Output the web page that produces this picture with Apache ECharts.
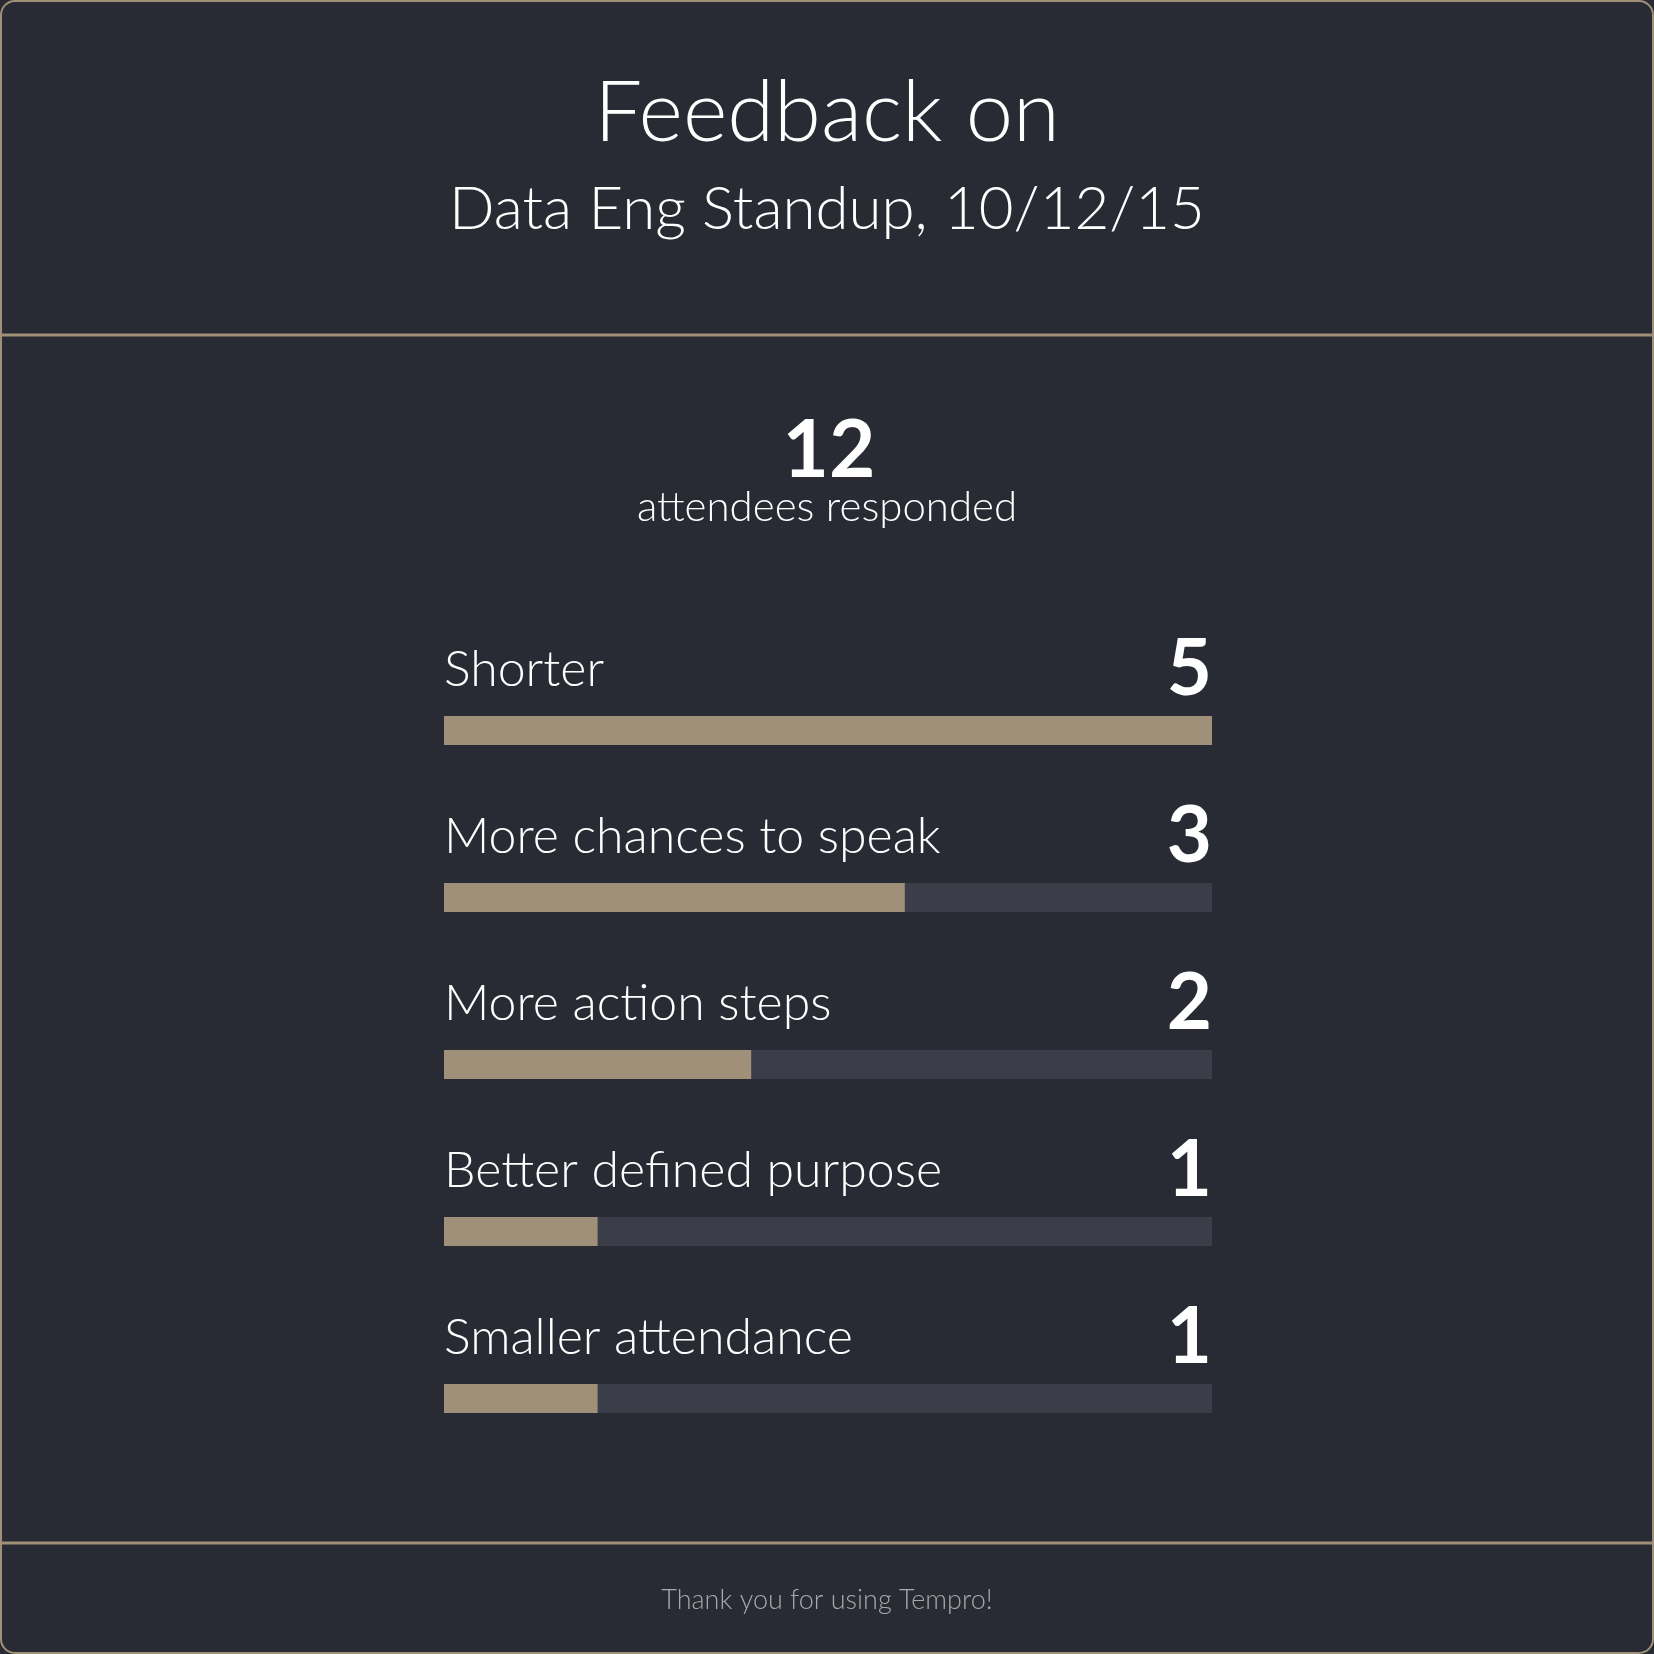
<!DOCTYPE html>
<html>
<head>
<meta charset="utf-8">
<script src="https://cdn.jsdelivr.net/npm/echarts@6/dist/echarts.min.js"></script>
<style>html,body{margin:0;padding:0;background:#282b34;}#c{width:1654px;height:1654px;}</style>
</head>
<body>
<div id="c"></div>
<script>
var titleLine1 = 'Feedback on';
var titleLine2 = 'Data Eng Standup, 10/12/15';
var respondents = '12';
var respondentsLabel = 'attendees responded';
var footerText = 'Thank you for using Tempro!';
var categories = ['Shorter', 'More chances to speak', 'More action steps', 'Better defined purpose', 'Smaller attendance'];
var counts = [5, 3, 2, 1, 1];
var maxCount = 5;
var trackValues = categories.map(function(){ return maxCount; });

var FONT = 'Lato, "Noto Sans", sans-serif';
var chart = echarts.init(document.getElementById('c'));
chart.setOption({
  backgroundColor: '#282b34',
  animation: false,
  grid: { left: 444, right: 442, top: 647, bottom: 172 },
  xAxis: { type: 'value', min: 0, max: maxCount, show: false },
  yAxis: { type: 'category', data: categories, inverse: true, show: false },
  series: [
    {
      type: 'bar', data: trackValues, barWidth: 29, silent: true,
      itemStyle: { color: '#3b3e48' },
      label: {
        show: true, position: ['100%', -46], align: 'right', verticalAlign: 'middle',
        formatter: function(p){ return String(counts[p.dataIndex]); },
        color: '#ffffff', fontFamily: FONT, fontWeight: 'bold', fontSize: 78
      }
    },
    {
      type: 'bar', data: counts, barWidth: 29, barGap: '-100%', silent: true,
      itemStyle: { color: '#a19079' },
      label: {
        show: true, position: [0, -46], align: 'left', verticalAlign: 'middle',
        formatter: function(p){ return p.name; },
        color: '#ffffff', fontFamily: FONT, fontWeight: 300, fontSize: 50
      }
    }
  ],
  graphic: [
    { type: 'rect', shape: { x: 1, y: 1, width: 1652, height: 1652, r: 14 }, style: { fill: 'none', stroke: '#a09078', lineWidth: 2 }, z: 10 },
    { type: 'line', shape: { x1: 2, y1: 335, x2: 1652, y2: 335 }, style: { stroke: '#a09078', lineWidth: 3 } },
    { type: 'line', shape: { x1: 2, y1: 1543, x2: 1652, y2: 1543 }, style: { stroke: '#a09078', lineWidth: 3 } },
    { type: 'text', x: 827, y: 114, style: { text: titleLine1, fill: '#ffffff', font: '300 85px ' + FONT, textAlign: 'center', textVerticalAlign: 'middle' } },
    { type: 'text', x: 827, y: 210, style: { text: titleLine2, fill: '#ffffff', font: '300 60px ' + FONT, textAlign: 'center', textVerticalAlign: 'middle' } },
    { type: 'text', x: 829, y: 451, style: { text: respondents, fill: '#ffffff', font: 'bold 80px ' + FONT, textAlign: 'center', textVerticalAlign: 'middle' } },
    { type: 'text', x: 827, y: 507, style: { text: respondentsLabel, fill: '#ffffff', font: '300 42px ' + FONT, textAlign: 'center', textVerticalAlign: 'middle' } },
    { type: 'text', x: 827, y: 1600, style: { text: footerText, fill: '#a8a8a8', font: '300 27px ' + FONT, textAlign: 'center', textVerticalAlign: 'middle' } }
  ]
});
</script>
</body>
</html>
